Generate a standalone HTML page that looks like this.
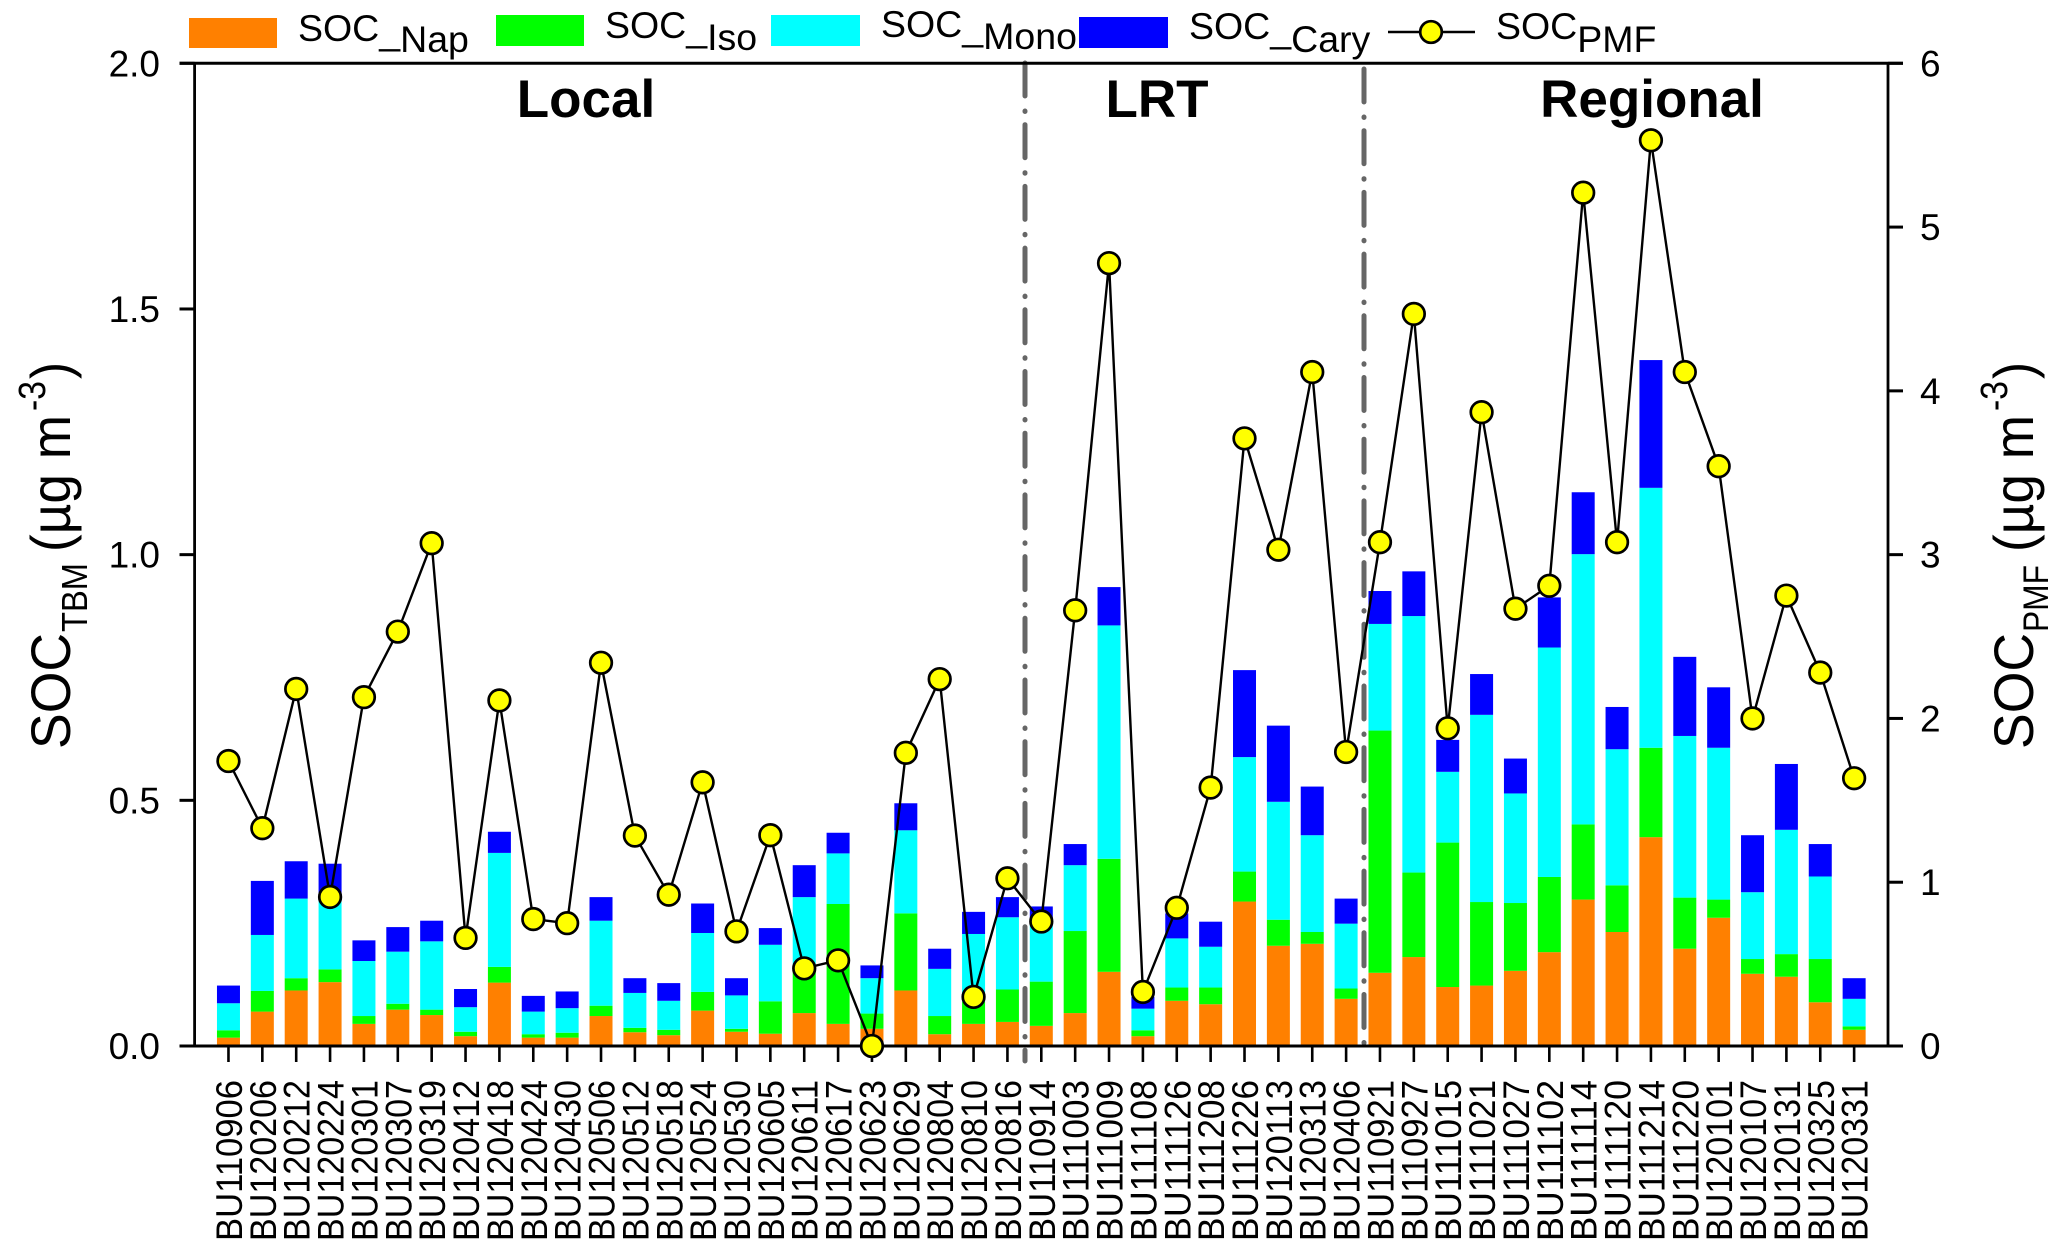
<!DOCTYPE html>
<html lang="en">
<head>
<meta charset="utf-8">
<title>SOC TBM and SOC PMF by sample</title>
<style>
html,body{margin:0;padding:0;background:#fff;width:2067px;height:1252px;overflow:hidden}
svg{display:block}
text{font-family:"Liberation Sans",sans-serif;fill:#000}
</style>
</head>
<body>
<svg id="chart" xmlns="http://www.w3.org/2000/svg" width="2067" height="1252" viewBox="0 0 2067 1252">
  <rect x="0" y="0" width="2067" height="1252" fill="#fff"/>
  <g id="bars"></g>
  <g id="dividers">
    <line x1="1025" y1="63" x2="1025" y2="1061" stroke="#666" stroke-width="5" stroke-linecap="round" stroke-dasharray="33 15 0.5 13.2"/>
    <line x1="1364" y1="69" x2="1364" y2="1046" stroke="#666" stroke-width="5" stroke-linecap="round" stroke-dasharray="33 15 0.5 13.2"/>
  </g>
  <g id="axes"></g>
  <g id="pmf"></g>

  <g font-weight="bold" font-size="53" text-anchor="middle">
    <text x="586" y="117" style="font-weight:bold">Local</text>
    <text x="1157" y="117" style="font-weight:bold">LRT</text>
    <text x="1652" y="117" style="font-weight:bold">Regional</text>
  </g>

  <g font-size="37.5">
    <g>
      <rect x="189" y="18" width="88" height="30" fill="#FF8000"/>
      <text x="298" y="41">SOC<tspan dy="3">_</tspan><tspan dy="8">Nap</tspan></text>
    </g>
    <g>
      <rect x="496" y="15" width="88" height="31" fill="#00FF00"/>
      <text x="605" y="38">SOC<tspan dy="3">_</tspan><tspan dy="9">Iso</tspan></text>
    </g>
    <g>
      <rect x="771" y="15" width="89" height="31" fill="#00FFFF"/>
      <text x="881" y="37">SOC<tspan dy="3">_</tspan><tspan dy="9">Mono</tspan></text>
    </g>
    <g>
      <rect x="1079" y="17" width="89" height="31" fill="#0000FF"/>
      <text x="1189" y="39">SOC<tspan dy="3">_</tspan><tspan dy="10">Cary</tspan></text>
    </g>
    <g>
      <line x1="1388" y1="32" x2="1475" y2="32" stroke="#000" stroke-width="2.5"/>
      <circle cx="1431" cy="32" r="10.8" fill="#FFFF00" stroke="#000" stroke-width="2.7"/>
      <text x="1496" y="39">SOC<tspan dy="13">PMF</tspan></text>
    </g>
  </g>

  <g>
    <text transform="translate(70 749) rotate(-90)" font-size="56" textLength="116" lengthAdjust="spacingAndGlyphs">SOC</text>
    <text transform="translate(87 632) rotate(-90)" font-size="36.5" textLength="69" lengthAdjust="spacingAndGlyphs">TBM</text>
    <text transform="translate(70 552) rotate(-90)" font-size="56" textLength="137" lengthAdjust="spacingAndGlyphs">(µg m</text>
    <text transform="translate(45 411) rotate(-90)" font-size="38" textLength="30" lengthAdjust="spacingAndGlyphs">-3</text>
    <text transform="translate(70 379) rotate(-90)" font-size="56" textLength="17" lengthAdjust="spacingAndGlyphs">)</text>
  </g>
  <g>
    <text transform="translate(2033 749) rotate(-90)" font-size="56" textLength="116" lengthAdjust="spacingAndGlyphs">SOC</text>
    <text transform="translate(2048 632) rotate(-90)" font-size="35" textLength="67" lengthAdjust="spacingAndGlyphs">PMF</text>
    <text transform="translate(2033 552) rotate(-90)" font-size="56" textLength="137" lengthAdjust="spacingAndGlyphs">(µg m</text>
    <text transform="translate(2007 411) rotate(-90)" font-size="38" textLength="30" lengthAdjust="spacingAndGlyphs">-3</text>
    <text transform="translate(2033 379) rotate(-90)" font-size="56" textLength="17" lengthAdjust="spacingAndGlyphs">)</text>
  </g>
</svg>
<script>
const categories = ["BU110906","BU120206","BU120212","BU120224","BU120301","BU120307","BU120319","BU120412","BU120418","BU120424","BU120430","BU120506","BU120512","BU120518","BU120524","BU120530","BU120605","BU120611","BU120617","BU120623","BU120629","BU120804","BU120810","BU120816","BU110914","BU111003","BU111009","BU111108","BU111126","BU111208","BU111226","BU120113","BU120313","BU120406","BU110921","BU110927","BU111015","BU111021","BU111027","BU111102","BU111114","BU111120","BU111214","BU111220","BU120101","BU120107","BU120131","BU120325","BU120331"];
const socNap = [.017,.07,.113,.13,.045,.074,.063,.02,.129,.017,.017,.061,.028,.022,.072,.029,.025,.067,.045,.035,.113,.024,.045,.049,.041,.067,.151,.02,.092,.085,.294,.204,.208,.096,.149,.181,.12,.123,.153,.191,.298,.232,.425,.198,.261,.147,.141,.089,.033];
const socIso = [.015,.042,.025,.026,.016,.012,.011,.009,.032,.007,.01,.021,.009,.011,.038,.006,.066,.098,.244,.031,.157,.037,.045,.066,.09,.167,.23,.012,.027,.034,.061,.053,.024,.021,.493,.172,.294,.17,.138,.153,.153,.095,.182,.104,.037,.03,.046,.088,.007];
const socMono = [.055,.114,.162,.139,.112,.106,.139,.05,.232,.046,.05,.173,.071,.059,.12,.068,.115,.138,.103,.072,.169,.096,.138,.147,.119,.134,.475,.044,.1,.083,.233,.24,.197,.132,.217,.522,.144,.381,.223,.467,.55,.277,.529,.329,.309,.136,.253,.168,.056];
const socCary = [.036,.11,.076,.076,.042,.05,.042,.037,.043,.032,.034,.048,.03,.036,.06,.035,.034,.065,.042,.026,.055,.041,.045,.041,.034,.043,.078,.024,.051,.051,.177,.155,.099,.051,.067,.091,.065,.083,.071,.102,.126,.086,.26,.161,.123,.116,.134,.066,.042];
const socPmf = [1.74,1.33,2.18,.91,2.13,2.53,3.07,.66,2.11,.775,.75,2.34,1.285,.924,1.61,.70,1.287,.474,.523,0,1.79,2.24,.30,1.024,.76,2.66,4.78,.33,.844,1.578,3.71,3.03,4.115,1.795,3.076,4.47,1.94,3.87,2.67,2.81,5.21,3.076,5.53,4.115,3.54,2.0,2.75,2.28,1.635];
const leftTicks = [0,0.5,1,1.5,2];
const leftTickLabels = ["0.0","0.5","1.0","1.5","2.0"];
const rightTicks = [0,1,2,3,4,5,6];
const rightTickLabels = ["0","1","2","3","4","5","6"];

const NS = "http://www.w3.org/2000/svg";
const plot = {left:194.6, right:1888, top:63.3, bottom:1046};
const xMax = categories.length + 1;
const yLeftMax = 2, yRightMax = 6;
function xScale(i){ return plot.left + (i + 1) / xMax * (plot.right - plot.left); }
function yLeft(v){ return plot.bottom - v / yLeftMax * (plot.bottom - plot.top); }
function yRight(v){ return plot.bottom - v / yRightMax * (plot.bottom - plot.top); }
function make(tag, attrs, parent){
  const el = document.createElementNS(NS, tag);
  for (const k in attrs) el.setAttribute(k, attrs[k]);
  parent.appendChild(el);
  return el;
}

const barsG = document.getElementById("bars");
const axesG = document.getElementById("axes");
const pmfG = document.getElementById("pmf");
const barW = 23;

const stacks = [
  {values: socNap, color: "#FF8000", key: "nap"},
  {values: socIso, color: "#00FF00", key: "iso"},
  {values: socMono, color: "#00FFFF", key: "mono"},
  {values: socCary, color: "#0000FF", key: "cary"}
];
categories.forEach(function(cat, i){
  let base = 0;
  stacks.forEach(function(s){
    const top = base + s.values[i];
    const r = make("rect", {x: xScale(i) - barW / 2, y: yLeft(top), width: barW, height: yLeft(base) - yLeft(top), fill: s.color}, barsG);
    
    
    base = top;
  });
});

/* axis frame */
const frame = [
  [plot.left, plot.top, plot.left, plot.bottom, 'left-axis-line'],
  [plot.right, plot.top, plot.right, plot.bottom, 'right-axis-line']
];
frame.forEach(function(f){
  const l = make("line", {x1: f[0], y1: f[1], x2: f[2], y2: f[3], stroke: "#000", "stroke-width": 2.8}, axesG);
  
  
});
const topLine = make("line", {x1: 179.5, y1: plot.top, x2: 1903, y2: plot.top, stroke: "#000", "stroke-width": 3}, axesG);


const bottomLine = make("line", {x1: 179.5, y1: plot.bottom, x2: 1903, y2: plot.bottom, stroke: "#000", "stroke-width": 3}, axesG);



leftTicks.forEach(function(v, i){
  const y = yLeft(v);
  const t = make("line", {x1: 179.5, y1: y, x2: plot.left, y2: y, stroke: "#000", "stroke-width": 3}, axesG);
  
  
  const lb = make("text", {x: 160, y: y + 13, "font-size": 37, "text-anchor": "end"}, axesG);
  lb.textContent = leftTickLabels[i];
  
  
});
rightTicks.forEach(function(v, i){
  const y = yRight(v);
  const t = make("line", {x1: plot.right, y1: y, x2: 1903, y2: y, stroke: "#000", "stroke-width": 3}, axesG);
  
  
  const lb = make("text", {x: 1920, y: y + 13, "font-size": 37}, axesG);
  lb.textContent = rightTickLabels[i];
  
  
});
categories.forEach(function(cat, i){
  const x = xScale(i);
  const t = make("line", {x1: x, y1: plot.bottom, x2: x, y2: 1062, stroke: "#000", "stroke-width": 2.6}, axesG);
  
  
  const lb = make("text", {transform: "translate(" + (x + 13.5) + " 1241) rotate(-90)", "font-size": 37, textLength: 161, lengthAdjust: "spacingAndGlyphs"}, axesG);
  lb.textContent = cat;
  
  
});

/* PMF line and markers */
const pts = socPmf.map(function(v, i){ return xScale(i) + "," + yRight(v); }).join(" ");
const pmfLine = make("polyline", {points: pts, fill: "none", stroke: "#000", "stroke-width": 2.4, "stroke-linejoin": "round"}, pmfG);


socPmf.forEach(function(v, i){
  const c = make("circle", {cx: xScale(i), cy: yRight(v), r: 10.8, fill: "#FFFF00", stroke: "#000", "stroke-width": 2.7}, pmfG);
  
  
});
</script>
</body>
</html>
